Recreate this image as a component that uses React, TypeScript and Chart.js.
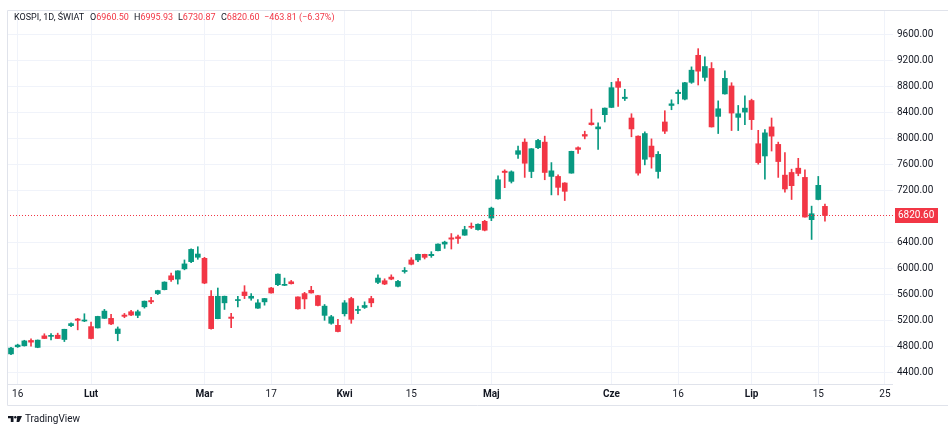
import { useEffect, useRef } from "react";
import { Chart, registerables } from "chart.js";

Chart.register(...registerables);

const UP = "#089981";
const DOWN = "#f23645";
const TEXT = "#131722";
const GRID = "#f0f3fa";
const FONT = "Roboto, 'Noto Sans', sans-serif";

// daily candles, 2026-01-15 .. 2026-07-16 (trading days only)
const OPEN = [
  4690, 4800, 4815, 4897, 4790, 4968, 4960, 4978, 4912, 5125,
  5227, 5196, 5110, 5090, 5237, 5237, 5003, 5288, 5339, 5283,
  5415, 5511, 5618, 5679, 5892, 5841, 5999, 6110, 6177, 6161,
  5577, 5232, 5476, 5257, 5511, 5643, 5547, 5394, 5491, 5704,
  5755, 5745, 5800, 5567, 5618, 5669, 5587, 5283, 5161, 5130,
  5308, 5542, 5359, 5405, 5542, 5791, 5816, 5872, 5730, 5958,
  6136, 6136, 6222, 6202, 6278, 6380, 6476, 6491, 6517, 6654,
  6603, 6730, 6781, 7076, 7502, 7345, 7761, 7949, 7497, 7863,
  7949, 7421, 7421, 7320, 7472, 7863, 8066, 8244, 8153, 8371,
  8483, 8879, 8620, 8320, 8041, 7685, 7888, 7497, 8259, 8513,
  8696, 8610, 8869, 9285, 8945, 9082, 8345, 8691, 8813, 8330,
  8411, 8589, 7924, 7736, 8183, 7914, 7441, 7482, 7548, 7406,
  6756, 7066, 6960.5,
];
const HIGH = [
  4790, 4840, 4900, 4922, 4905, 5000, 5003, 5009, 5070, 5170,
  5237, 5308, 5180, 5270, 5375, 5298, 5105, 5313, 5360, 5364,
  5505, 5562, 5670, 5800, 5933, 5970, 6136, 6308, 6339, 6176,
  5664, 5704, 5580, 5313, 5577, 5740, 5618, 5526, 5545, 5714,
  5922, 5857, 5821, 5570, 5638, 5730, 5590, 5450, 5283, 5222,
  5511, 5562, 5425, 5491, 5577, 5907, 5846, 5907, 5821, 6019,
  6171, 6225, 6225, 6263, 6385, 6425, 6542, 6517, 6654, 6705,
  6690, 6746, 6949, 7431, 7523, 7507, 7888, 8000, 7850, 7990,
  8041, 7634, 7446, 7325, 7810, 7878, 8117, 8457, 8244, 8475,
  8869, 8930, 8762, 8386, 8045, 8107, 7999, 7802, 8432, 8600,
  8752, 8870, 9107, 9387, 9260, 9173, 8584, 9046, 8863, 8513,
  8660, 8610, 8130, 8142, 8320, 7949, 7787, 7533, 7700, 7523,
  6964, 7421, 6995.93,
];
const LOW = [
  4680, 4790, 4810, 4810, 4785, 4925, 4906, 4925, 4880, 5110,
  5060, 5186, 4920, 5088, 5235, 5140, 4892, 5247, 5278, 5247,
  5395, 5465, 5603, 5675, 5806, 5765, 5984, 6095, 6146, 5770,
  5069, 5230, 5374, 5095, 5415, 5541, 5516, 5390, 5440, 5625,
  5740, 5740, 5765, 5380, 5384, 5625, 5430, 5207, 5146, 5030,
  5273, 5161, 5308, 5389, 5415, 5770, 5755, 5831, 5720, 5933,
  6060, 6110, 6151, 6176, 6275, 6314, 6304, 6390, 6515, 6619,
  6593, 6583, 6740, 7070, 7248, 7320, 7700, 7406, 7401, 7850,
  7370, 7137, 7137, 7050, 7470, 7776, 7999, 8210, 7837, 8259,
  8480, 8498, 8589, 8031, 7441, 7599, 7548, 7396, 8081, 8447,
  8538, 8600, 8853, 8828, 8889, 8180, 8081, 8688, 8127, 8127,
  8218, 8142, 7609, 7380, 7812, 7406, 7177, 7066, 7431, 6796,
  6451, 7060, 6730.87,
];
const CLOSE = [
  4780, 4826, 4890, 4871, 4902, 4927, 4970, 4927, 5069, 5156,
  5206, 5212, 4927, 5267, 5349, 5151, 5074, 5268, 5288, 5339,
  5501, 5491, 5664, 5795, 5831, 5968, 6075, 6298, 6227, 5780,
  5079, 5577, 5577, 5237, 5526, 5587, 5577, 5476, 5542, 5628,
  5917, 5760, 5770, 5384, 5536, 5628, 5435, 5425, 5262, 5034,
  5476, 5222, 5374, 5435, 5476, 5857, 5765, 5841, 5806, 5974,
  6070, 6222, 6176, 6222, 6380, 6410, 6456, 6466, 6603, 6639,
  6685, 6593, 6933, 7370, 7482, 7492, 7817, 7624, 7847, 7975,
  7482, 7507, 7253, 7192, 7807, 7837, 8041, 8218, 8183, 8472,
  8787, 8792, 8640, 8152, 7472, 8081, 7721, 7761, 8117, 8538,
  8716, 8863, 9056, 9041, 9112, 8183, 8462, 8930, 8396, 8386,
  8472, 8295, 7634, 8091, 8041, 7650, 7228, 7279, 7467, 6796,
  6847, 7284.41, 6820.6,
];

// time-axis labels and the candle index each one sits on
const TIME_TICKS = [1, 12, 29, 39, 50, 60, 72, 90, 100, 111, 121, 131];
const TIME_LABELS = ["16", "Lut", "Mar", "17", "Kwi", "15", "Maj", "Cze", "16", "Lip", "15", "25"];
const MONTHS = ["Lut", "Mar", "Kwi", "Maj", "Cze", "Lip"];

const PRICE_TICKS = [9600, 9200, 8800, 8400, 8000, 7600, 7200, 6400, 6000, 5600, 5200, 4800, 4400];
const LAST_PRICE = 6820.6;

const isUp = (i: number) => CLOSE[i] >= OPEN[i];

const overlay = {
  id: "overlay",
  afterDatasetsDraw(chart: any) {
    const { ctx, chartArea } = chart;
    const y = Math.round(chart.scales.y.getPixelForValue(LAST_PRICE)) + 0.5;
    ctx.save();
    ctx.strokeStyle = DOWN;
    ctx.lineWidth = 1;
    ctx.setLineDash([1, 2]);
    ctx.beginPath();
    ctx.moveTo(chartArea.left, y);
    ctx.lineTo(chartArea.right, y);
    ctx.stroke();
    ctx.restore();
  },
  afterDraw(chart: any) {
    const { ctx, chartArea, width } = chart;
    const xs = chart.scales.x;
    ctx.save();
    ctx.strokeStyle = "#e0e3eb";
    ctx.lineWidth = 1;
    ctx.beginPath();
    ctx.moveTo(width, chartArea.top + 0.5);
    ctx.lineTo(chartArea.left + 0.5, chartArea.top + 0.5);
    ctx.lineTo(chartArea.left + 0.5, xs.bottom + 0.5);
    ctx.lineTo(width, xs.bottom + 0.5);
    ctx.moveTo(chartArea.left, chartArea.bottom + 0.5);
    ctx.lineTo(chartArea.right, chartArea.bottom + 0.5);
    ctx.stroke();

    // last price tag on the price scale
    const y = chart.scales.y.getPixelForValue(LAST_PRICE);
    ctx.fillStyle = DOWN;
    ctx.fillRect(chartArea.right + 2, Math.round(y) - 7, 43, 15);
    ctx.fillStyle = "#ffffff";
    ctx.font = `10px ${FONT}`;
    ctx.textBaseline = "middle";
    ctx.textAlign = "left";
    ctx.fillText(LAST_PRICE.toFixed(2), chartArea.right + 5, Math.round(y) + 0.5);
    ctx.restore();
  },
};

export default function App() {
  const canvasRef = useRef<HTMLCanvasElement>(null);

  useEffect(() => {
    document.body.style.margin = "0";
    document.body.style.overflow = "hidden";
    if (!canvasRef.current) return;

    const color = (c: any) => (isUp(c.dataIndex) ? UP : DOWN);

    const chart = new Chart(canvasRef.current, {
      type: "bar",
      data: {
        datasets: [
          {
            label: "body",
            data: OPEN.map((o, i) => ({ x: i, y: [o, CLOSE[i]] })) as any,
            backgroundColor: color,
            barThickness: 5,
            minBarLength: 1,
            grouped: false,
          },
          {
            label: "wick",
            data: LOW.map((l, i) => ({ x: i, y: [l, HIGH[i]] })) as any,
            backgroundColor: color,
            barThickness: 1,
            grouped: false,
          },
        ],
      },
      options: {
        responsive: true,
        maintainAspectRatio: false,
        animation: false,
        layout: { padding: { left: 7, top: 7, right: 0, bottom: 28 } },
        plugins: { legend: { display: false }, tooltip: { enabled: false } },
        scales: {
          x: {
            type: "linear",
            min: -0.6,
            max: 132.2,
            offset: false,
            grid: { color: GRID, drawTicks: false, offset: false },
            border: { display: false },
            afterBuildTicks: (s: any) => {
              s.ticks = TIME_TICKS.map((v) => ({ value: v }));
            },
            afterFit: (s: any) => {
              s.height = 21;
            },
            ticks: {
              autoSkip: false,
              maxRotation: 0,
              padding: 4,
              color: TEXT,
              font: (c: any) => ({
                family: FONT,
                size: 10,
                weight: MONTHS.includes(TIME_LABELS[c.index]) ? "bold" : "normal",
              }),
              callback: (_v: any, i: number) => TIME_LABELS[i],
            },
          },
          y: {
            type: "linear",
            position: "right",
            min: 4227,
            max: 9982,
            grid: { color: GRID, drawTicks: false },
            border: { display: false },
            afterBuildTicks: (s: any) => {
              s.ticks = PRICE_TICKS.map((v) => ({ value: v }));
            },
            afterFit: (s: any) => {
              s.width = 55;
            },
            ticks: {
              padding: 4,
              color: TEXT,
              font: { family: FONT, size: 10 },
              callback: (v: any) => Number(v).toFixed(2),
            },
          },
        },
      },
      plugins: [overlay],
    });

    return () => {
      chart.destroy();
    };
  }, []);

  const head: React.CSSProperties = {
    position: "absolute",
    top: 11,
    fontFamily: FONT,
    fontSize: 9,
    lineHeight: "12px",
    whiteSpace: "nowrap",
  };

  return (
    <div style={{ position: "relative", width: 948, height: 433, background: "#fff" }}>
      <canvas ref={canvasRef} />
      <span style={{ ...head, left: 14, color: TEXT }}>KOSPI, 1D, ŚWIAT</span>
      <span style={{ ...head, left: 90, color: TEXT }}>
        O<span style={{ color: DOWN }}>6960.50</span>
      </span>
      <span style={{ ...head, left: 134, color: TEXT }}>
        H<span style={{ color: DOWN }}>6995.93</span>
      </span>
      <span style={{ ...head, left: 178, color: TEXT }}>
        L<span style={{ color: DOWN }}>6730.87</span>
      </span>
      <span style={{ ...head, left: 221, color: TEXT }}>
        C<span style={{ color: DOWN }}>6820.60</span>
      </span>
      <span style={{ ...head, left: 264, color: DOWN }}>−463.81 (−6.37%)</span>
      <div
        style={{
          position: "absolute",
          left: 8,
          top: 413,
          display: "flex",
          alignItems: "center",
          gap: 3,
          fontFamily: FONT,
          fontSize: 10,
          color: TEXT,
        }}
      >
        <svg width="14" height="6" viewBox="0 0 14 6">
          <path d="M0 0H5.5V6H2.8V2.3H0Z" fill={TEXT} />
          <circle cx="7.3" cy="1.2" r="1.2" fill={TEXT} />
          <path d="M9.2 0H14L11.2 6H8.6Z" fill={TEXT} />
        </svg>
        <span>TradingView</span>
      </div>
    </div>
  );
}
